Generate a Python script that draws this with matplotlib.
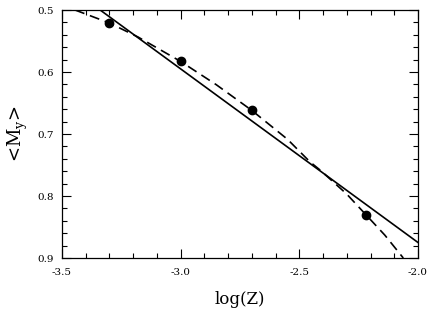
import matplotlib
matplotlib.use("Agg")
import matplotlib.pyplot as plt
from matplotlib.ticker import MultipleLocator

plt.rcParams['font.family'] = 'DejaVu Serif'
plt.rcParams['mathtext.fontset'] = 'dejavuserif'

# data points
logz = [-3.30, -3.00, -2.70, -2.22]
my = [0.521, 0.583, 0.662, 0.830]

# dashed curve
curve_x = [-3.445, -3.30, -3.18, -3.00, -2.85, -2.70, -2.55, -2.455, -2.413, -2.30, -2.22, -2.14, -2.062]
curve_y = [0.500, 0.521, 0.5435, 0.583, 0.6205, 0.662, 0.7085, 0.745, 0.758, 0.797, 0.830, 0.863, 0.900]

# solid linear fit, end points
line_x = [-3.5, -2.0]
line_y = [0.455, 0.875]

fig = plt.figure(figsize=(4.36, 3.12), dpi=100)
ax = fig.add_axes([62/436, 54/312, 356/436, 248/312])

ax.plot(line_x, line_y, color='black', lw=1.2)
ax.plot(curve_x, curve_y, color='black', lw=1.2, ls=(0, (6, 3.5)))
ax.plot(logz, my, 'o', color='black', ms=6)

ax.set_xlim(-3.5, -2.0)
ax.set_ylim(0.9, 0.5)

ax.xaxis.set_major_locator(MultipleLocator(0.5))
ax.xaxis.set_minor_locator(MultipleLocator(0.1))
ax.yaxis.set_major_locator(MultipleLocator(0.1))
ax.yaxis.set_minor_locator(MultipleLocator(0.02))
ax.xaxis.set_major_formatter(plt.FormatStrFormatter('%.1f'))
ax.yaxis.set_major_formatter(plt.FormatStrFormatter('%.1f'))

ax.tick_params(which='both', direction='in', top=True, right=True, width=0.8, labelsize=7.5)
ax.tick_params(which='major', length=6.5)
ax.tick_params(which='minor', length=3.4)
ax.tick_params(axis='y', pad=6)
ax.tick_params(axis='x', pad=7)
for s in ax.spines.values():
    s.set_linewidth(0.9)

ax.set_xlabel('log(Z)', fontsize=12, labelpad=10)
ax.set_ylabel(r'<M$_{\rm y}$>', fontsize=13, labelpad=5)

fig.savefig('out.png', dpi=100)
